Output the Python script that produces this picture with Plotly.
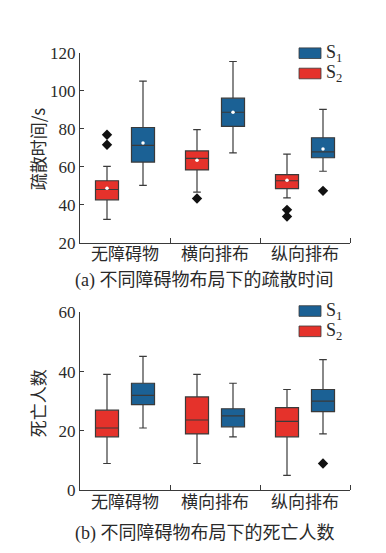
import plotly.graph_objects as go

categories = ["无障碍物", "横向排布", "纵向排布"]
series = ["S1", "S2"]

# (a) evacuation time
a_s1_low = [50.3, 67.4, 57.7]
a_s1_q1 = [62.5, 81.3, 64.8]
a_s1_med = [71.3, 88.7, 67.9]
a_s1_q3 = [80.7, 96.1, 75.3]
a_s1_high = [105.1, 115.4, 90.2]
a_s1_mean = [72.6, 88.7, 69.4]
a_s1_out = [[], [], [47.4]]

a_s2_low = [32.4, 46.7, 43.7]
a_s2_q1 = [42.7, 58.4, 48.6]
a_s2_med = [48.1, 64.5, 52.7]
a_s2_q3 = [52.7, 68.4, 55.9]
a_s2_high = [60.3, 79.6, 66.7]
a_s2_mean = [48.8, 63.5, 53.0]
a_s2_out = [[71.6, 76.9], [43.4], [37.4, 33.9]]

# (b) deaths
b_s1_low = [21.0, 18.0, 19.0]
b_s1_q1 = [28.9, 21.4, 26.5]
b_s1_med = [32.0, 25.1, 30.1]
b_s1_q3 = [36.1, 27.5, 34.0]
b_s1_high = [45.2, 36.1, 44.1]
b_s1_out = [[], [], [9.0]]

b_s2_low = [9.0, 9.0, 5.0]
b_s2_q1 = [18.0, 19.0, 18.0]
b_s2_med = [21.0, 23.7, 23.2]
b_s2_q3 = [27.0, 31.5, 27.9]
b_s2_high = [39.1, 39.1, 34.0]
b_s2_out = [[], [], []]

BLUE = "#1b6195"
RED = "#e5322b"
LINE = "#3a3a3a"
TXT = "#2a2a2a"
SERIF = "Liberation Serif, Times New Roman, Noto Sans CJK SC, serif"
CJK = "Noto Sans CJK SC, Liberation Serif, serif"

OFF = 0.2
BW = 0.256

fig = go.Figure()


def add_group(xa, ya, low, q1, med, q3, high, outs, color, off, mean=None):
    xs = [i + off for i in range(len(categories))]
    fig.add_trace(go.Box(
        x=xs, lowerfence=low, q1=q1, median=med, q3=q3, upperfence=high,
        width=BW, whiskerwidth=0.33, fillcolor=color,
        line=dict(color=LINE, width=1.2), xaxis=xa, yaxis=ya,
        showlegend=False, hoverinfo="skip", boxpoints=False,
    ))
    ox, oy = [], []
    for x, o in zip(xs, outs):
        for v in o:
            ox.append(x)
            oy.append(v)
    if ox:
        fig.add_trace(go.Scatter(
            x=ox, y=oy, mode="markers", xaxis=xa, yaxis=ya,
            marker=dict(symbol="diamond", size=8, color="#111111"),
            showlegend=False, hoverinfo="skip"))
    if mean is not None:
        fig.add_trace(go.Scatter(
            x=xs, y=mean, mode="markers", xaxis=xa, yaxis=ya,
            marker=dict(symbol="circle", size=3.5, color="white"),
            showlegend=False, hoverinfo="skip"))


add_group("x", "y", a_s2_low, a_s2_q1, a_s2_med, a_s2_q3, a_s2_high, a_s2_out, RED, -OFF, a_s2_mean)
add_group("x", "y", a_s1_low, a_s1_q1, a_s1_med, a_s1_q3, a_s1_high, a_s1_out, BLUE, OFF, a_s1_mean)
add_group("x2", "y2", b_s2_low, b_s2_q1, b_s2_med, b_s2_q3, b_s2_high, b_s2_out, RED, -OFF)
add_group("x2", "y2", b_s1_low, b_s1_q1, b_s1_med, b_s1_q3, b_s1_high, b_s1_out, BLUE, OFF)

W, H = 386, 553
xdom = [72 / W, 342 / W]
ydomA = [(H - 234) / H, (H - 37) / H]
ydomB = [(H - 490) / H, (H - 306) / H]

xcommon = dict(
    range=[-0.5, 2.5], tickvals=[0, 1, 2], ticktext=categories, ticks="", ticklen=0,
    ticklabelstandoff=-4,
    showline=True, linecolor=LINE, linewidth=1.2, showgrid=False, zeroline=False,
    tickfont=dict(family=CJK, size=17, color=TXT),
    minor=dict(tickvals=[0.5, 1.5, 2.5], ticks="inside", ticklen=5,
               tickcolor=LINE, tickwidth=1, showgrid=False),
    domain=xdom, fixedrange=True,
)
ycommon = dict(
    showline=True, linecolor=LINE, linewidth=1.2, showgrid=False, zeroline=False,
    ticks="inside", ticklen=4, tickcolor=LINE, tickwidth=1,
    tickfont=dict(family=SERIF, size=17, color=TXT),
)

fig.update_layout(
    width=W, height=H,
    margin=dict(l=0, r=0, t=0, b=0),
    paper_bgcolor="white", plot_bgcolor="white",
    showlegend=False,
    xaxis=dict(**xcommon, anchor="y"),
    xaxis2=dict(**xcommon, anchor="y2"),
    yaxis=dict(**ycommon, range=[20, 120], tickvals=[20, 40, 60, 80, 100, 120],
               domain=ydomA, anchor="x"),
    yaxis2=dict(**ycommon, range=[0, 60], tickvals=[0, 20, 40, 60],
                domain=ydomB, anchor="x2"),
)

annots = [
    dict(text="疏散时间/s", x=29 / W, y=1 - 137 / H, textangle=-90,
         font=dict(family=CJK, size=17, color=TXT)),
    dict(text="死亡人数", x=29 / W, y=1 - 400 / H, textangle=-90,
         font=dict(family=CJK, size=17, color=TXT)),
    dict(text="(a) 不同障碍物布局下的疏散时间", x=196 / W, y=1 - 273 / H,
         font=dict(family=SERIF, size=18, color=TXT)),
    dict(text="(b) 不同障碍物布局下的死亡人数", x=197 / W, y=1 - 535 / H,
         font=dict(family=SERIF, size=18, color=TXT)),
]

# legends (decorations in paper coordinates)
shapes = []
for top in (32, 299):
    for k, (col, lab) in enumerate([(BLUE, "S<sub>1</sub>"), (RED, "S<sub>2</sub>")]):
        y0 = top + k * 21
        shapes.append(dict(type="rect", xref="paper", yref="paper",
                           x0=291 / W, x1=313 / W, y0=1 - (y0 + 11) / H, y1=1 - y0 / H,
                           fillcolor=col, line=dict(color=LINE, width=0.8)))
        annots.append(dict(text=lab, x=316 / W, y=1 - (y0 + 6) / H, xanchor="left",
                           font=dict(family=SERIF, size=18, color=TXT)))

for a in annots:
    a.setdefault("xref", "paper")
    a.setdefault("yref", "paper")
    a.setdefault("showarrow", False)
    a.setdefault("xanchor", "center")
    a.setdefault("yanchor", "middle")

fig.update_layout(annotations=annots, shapes=shapes)

fig.write_html("out.html")
